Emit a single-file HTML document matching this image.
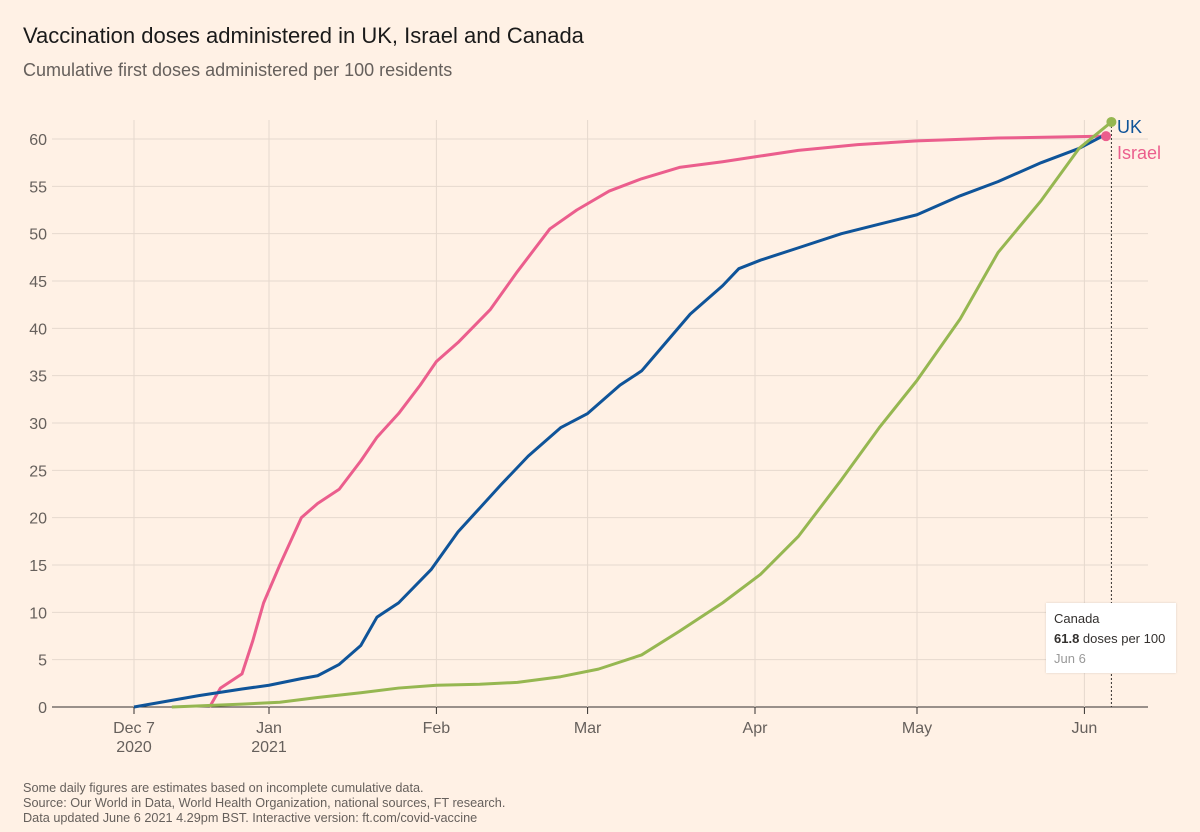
<!DOCTYPE html>
<html><head><meta charset="utf-8"><style>
body{margin:0;background:#fff1e5;font-family:"Liberation Sans",sans-serif;}
#wrap{position:relative;width:1200px;height:832px;overflow:hidden;background:#fff1e5}
.t{position:absolute;white-space:nowrap}
</style></head><body>
<div id="wrap">
<div class="t" style="left:23px;top:23px;font-size:22px;color:#1a1a1a">Vaccination doses administered in UK, Israel and Canada</div>
<div class="t" style="left:23px;top:60px;font-size:18px;color:#66605c">Cumulative first doses administered per 100 residents</div>
<svg id="chart" width="1200" height="832" style="position:absolute;left:0;top:0"></svg>
<div class="t" style="left:1046px;top:603px;width:130px;height:70px;background:#fff;box-shadow:0 0 2px rgba(0,0,0,0.15);font-size:13px;color:#33302e;line-height:20px;padding:6px 0 0 8px;box-sizing:border-box">
<div>Canada</div>
<div><b>61.8</b> doses per 100</div>
<div style="color:#999">Jun 6</div>
</div>
<div class="t" style="left:23px;top:781px;font-size:12.7px;color:#66605c;line-height:15px">Some daily figures are estimates based on incomplete cumulative data.<br>Source: Our World in Data, World Health Organization, national sources, FT research.<br>Data updated June 6 2021 4.29pm BST. Interactive version: ft.com/covid-vaccine</div>
</div>
<script>
const yTicks=[0,5,10,15,20,25,30,35,40,45,50,55,60];
const xTickDays=[0,25,56,84,115,145,176];
const xTickLabels=[["Dec 7","2020"],["Jan","2021"],["Feb"],["Mar"],["Apr"],["May"],["Jun"]];
const ukDays=[0,5,12,20,25,31,34,38,42,45,49,55,60,64,68,73,79,84,90,94,97,103,109,112,116,123,131,138,145,153,160,168,175,180];
const ukVals=[0,0.5,1.2,1.9,2.3,3.0,3.3,4.5,6.5,9.5,11,14.5,18.5,21,23.5,26.5,29.5,31,34,35.5,37.5,41.5,44.5,46.3,47.2,48.5,50,51,52,54,55.5,57.5,59,60.5];
const ilDays=[14,16,20,22,24,27,31,34,38,42,45,49,53,56,60,66,71,77,82,88,94,101,109,116,123,134,145,160,180];
const ilVals=[0,2,3.5,7,11,15,20,21.5,23,26,28.5,31,34,36.5,38.5,42,46,50.5,52.5,54.5,55.8,57,57.6,58.2,58.8,59.4,59.8,60.1,60.3];
const caDays=[7,20,27,34,42,49,56,64,71,79,86,94,101,109,116,123,131,138,145,153,160,168,175,181];
const caVals=[0,0.3,0.5,1,1.5,2,2.3,2.4,2.6,3.2,4,5.5,8,11,14,18,24,29.5,34.5,41,48,53.5,59,61.8];
const ukColor="#0f5499",ilColor="#eb5e8d",caColor="#96b751";
const X=d=>134+d*5.4, Y=v=>707-v*(568/60);
const svg=document.getElementById('chart');const NS="http://www.w3.org/2000/svg";
function mk(tag,attrs){const e=document.createElementNS(NS,tag);for(const k in attrs)e.setAttribute(k,attrs[k]);svg.appendChild(e);return e;}
yTicks.forEach(v=>{
 const l=mk('line',{x1:52,x2:1148,y1:Y(v),y2:Y(v),stroke:v===0?'#33302e':'#e6d9ce','stroke-width':1});
 
 
 const t=mk('text',{x:47,y:Y(v)+6,'text-anchor':'end','font-size':16,fill:'#66605c','font-family':'Liberation Sans'});
 t.textContent=v;
 
 
});
xTickDays.forEach((d,i)=>{
 const l=mk('line',{x1:X(d),x2:X(d),y1:Y(0),y2:120,stroke:'#e6d9ce','stroke-width':1});
 
 
 const k=mk('line',{x1:X(d),x2:X(d),y1:707,y2:714,stroke:'#33302e','stroke-width':1});
 
 
 xTickLabels[i].forEach((s,j)=>{
  const t=mk('text',{x:X(d),y:733+j*19,'text-anchor':'middle','font-size':16,fill:'#66605c','font-family':'Liberation Sans'});
  t.textContent=s;
  
  
 });
});
const vl=mk('line',{x1:X(181),x2:X(181),y1:Y(61.8),y2:707,stroke:'#33302e','stroke-width':1,'stroke-dasharray':'2,2'});


function series(days,vals,c,name){
 const p=mk('polyline',{points:days.map((d,i)=>X(d)+','+Y(vals[i])).join(' '),fill:'none',stroke:c,'stroke-width':3,'stroke-linejoin':'round'});
 
 
}
series(ilDays,ilVals,ilColor,'israel-line');
series(ukDays,ukVals,ukColor,'uk-line');
series(caDays,caVals,caColor,'canada-line');
const d1=mk('circle',{cx:X(ilDays[ilDays.length-1]),cy:Y(ilVals[ilVals.length-1]),r:5,fill:ilColor});


const d2=mk('circle',{cx:X(caDays[caDays.length-1]),cy:Y(caVals[caVals.length-1]),r:5,fill:caColor});


const l1=mk('text',{x:1117,y:133,'font-size':18,fill:ukColor,'font-family':'Liberation Sans'});l1.textContent='UK';


const l2=mk('text',{x:1117,y:159,'font-size':18,fill:ilColor,'font-family':'Liberation Sans'});l2.textContent='Israel';


</script>
</body></html>
